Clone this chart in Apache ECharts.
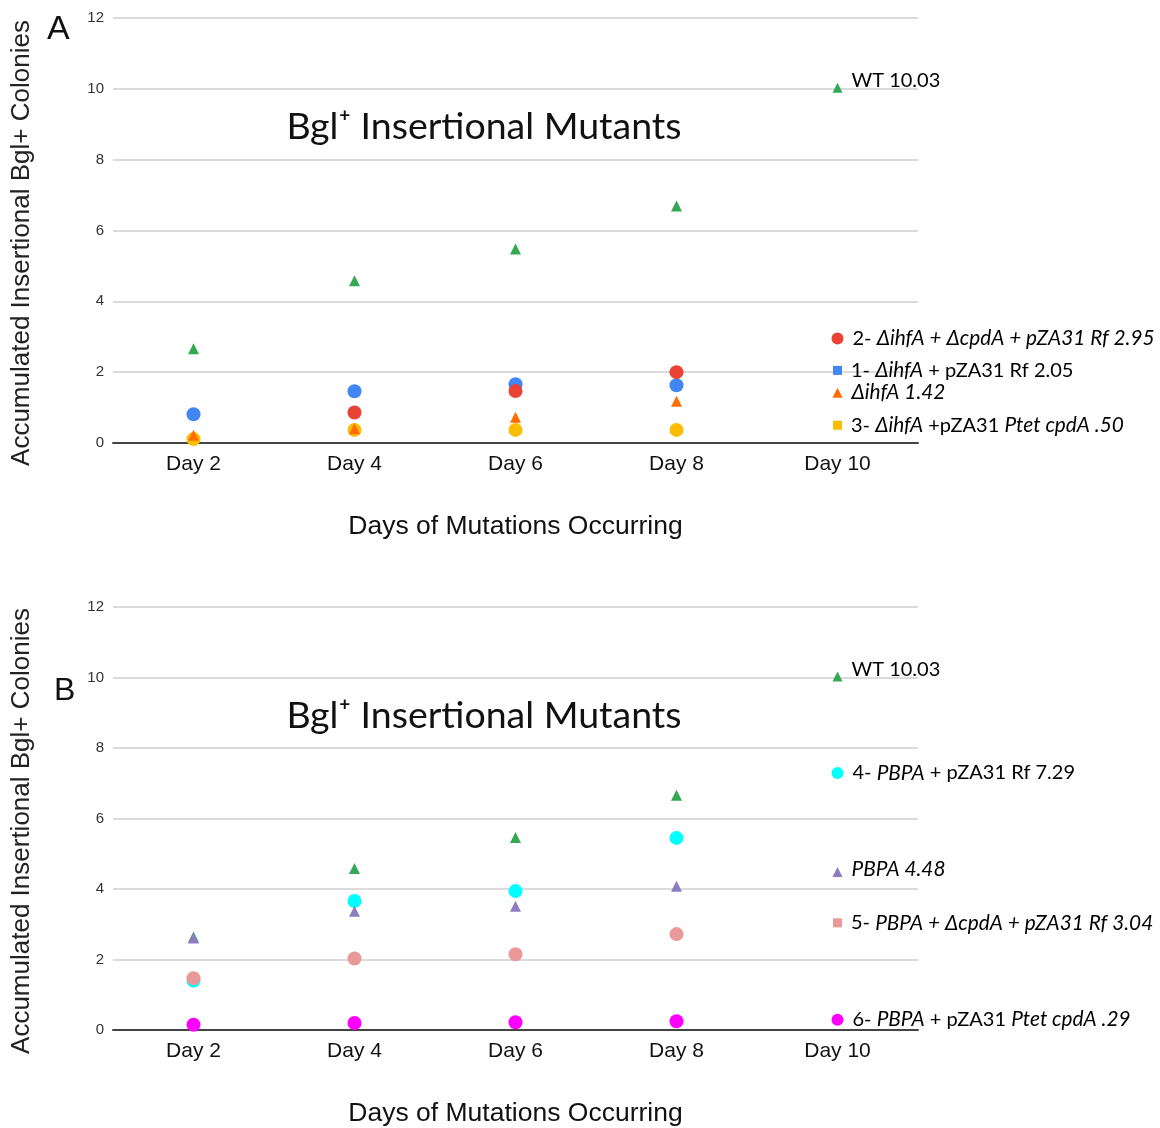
<!DOCTYPE html>
<html><head><meta charset="utf-8">
<script src="https://cdn.jsdelivr.net/npm/echarts@6/dist/echarts.min.js"></script>
<style>html,body{margin:0;padding:0;background:#fff}#c{width:1160px;height:1128px}</style>
</head><body><div id="c"></div>
<script>
const days = ['Day 2', 'Day 4', 'Day 6', 'Day 8', 'Day 10'];
const yTicks = [0, 2, 4, 6, 8, 10, 12];

// Panel A
const wtA = [2.66, 4.58, 5.48, 6.69, 10.03];
const ihfA_pZA31 = [0.81, 1.46, 1.66, 1.63, 2.05];          // 1-
const ihfA_cpdA_pZA31 = [null, 0.86, 1.47, 2.0, 2.95];       // 2-
const ihfA = [0.22, 0.40, 0.73, 1.18, 1.42];
const ihfA_Ptet = [0.11, 0.37, 0.37, 0.37, 0.50];            // 3-

// Panel B
const wtB = [2.64, 4.58, 5.46, 6.66, 10.03];
const pbpa_pZA31 = [1.40, 3.66, 3.94, 5.45, 7.29];           // 4-
const pbpa = [2.61, 3.37, 3.51, 4.08, 4.48];
const pbpa_cpdA_pZA31 = [1.47, 2.03, 2.15, 2.72, 3.04];      // 5-
const pbpa_Ptet = [0.15, 0.20, 0.22, 0.25, 0.29];            // 6-

const labelWT = '{n|WT 10.03}';
const label1 = '{n|1- }{i|ΔihfA}{n| + pZA31 Rf 2.05}';
const label2 = '{n|2- }{i|ΔihfA + ΔcpdA + pZA31 Rf 2.95}';
const labelIhf = '{i|ΔihfA 1.42}';
const label3 = '{n|3- }{i|ΔihfA}{n| +pZA31 }{i|Ptet cpdA .50}';
const label4 = '{n|4- }{i|PBPA}{n| + pZA31 Rf 7.29}';
const labelPbpa = '{i|PBPA 4.48}';
const label5 = '{n|5- }{i|PBPA + ΔcpdA + pZA31 Rf 3.04}';
const label6 = '{n|6- }{i|PBPA}{n| + pZA31 }{i|Ptet cpdA .29}';

const yName = 'Accumulated Insertional Bgl+ Colonies';
const xName = 'Days of Mutations Occurring';
const titleText = 'Bgl⁺ Insertional Mutants';

const FONT = 'Lato, "Open Sans", sans-serif';
const SANS = '"Liberation Sans", Arial, sans-serif';
const rich = {
  n: {fontFamily: FONT, fontSize: 20, color: '#000'},
  i: {fontFamily: FONT, fontSize: 20.8, color: '#000', fontStyle: 'italic'}
};

function mk(idx, vals, color, symbol, size, endSymbol, endSize, label, labelOffset) {
  return {
    type: 'scatter', xAxisIndex: idx, yAxisIndex: idx,
    itemStyle: {color: color, opacity: 1},
    symbol: symbol, symbolSize: size,
    data: vals.map((v, i) => {
      if (i === vals.length - 1) {
        return {value: v, symbol: endSymbol, symbolSize: endSize,
          label: {show: true, position: 'right', distance: 9, formatter: label, rich: rich,
                  offset: labelOffset || [0, 0]}};
      }
      return v;
    })
  };
}

function yAxis(idx) {
  return {
    type: 'value', gridIndex: idx, min: 0, max: 12, interval: 2,
    axisLine: {show: false}, axisTick: {show: false},
    axisLabel: {fontFamily: SANS, fontSize: 15, color: '#333', margin: 9,
      formatter: v => yTicks.includes(v) ? String(v) : ''},
    splitLine: {lineStyle: {color: '#cfcfcf', width: 1.5}}
  };
}
function xAxis(idx) {
  return {
    type: 'category', gridIndex: idx, data: days, boundaryGap: true,
    axisLine: {lineStyle: {color: '#444', width: 2}}, axisTick: {show: false},
    axisLabel: {fontFamily: SANS, fontSize: 21, color: '#111', margin: 11},
    name: xName, nameLocation: 'middle', nameGap: 70,
    nameTextStyle: {fontFamily: SANS, fontSize: 26.5, color: '#111'}
  };
}

const chart = echarts.init(document.getElementById('c'), null, {renderer: 'canvas'});
chart.setOption({
  animation: false,
  backgroundColor: '#fff',
  grid: [
    {left: 113, width: 805, top: 18, height: 425},
    {left: 113, width: 805, top: 607, height: 424}
  ],
  xAxis: [xAxis(0), xAxis(1)],
  yAxis: [yAxis(0), yAxis(1)],
  title: [
    {text: titleText, left: 479, top: 103, textAlign: 'center',
     textStyle: {fontFamily: FONT, fontSize: 37.5, fontWeight: 'normal', color: '#111'}},
    {text: titleText, left: 479, top: 692, textAlign: 'center',
     textStyle: {fontFamily: FONT, fontSize: 37.5, fontWeight: 'normal', color: '#111'}},
    {text: 'A', left: 42, top: 8, textStyle: {fontFamily: SANS, fontSize: 34, fontWeight: 'normal', color: '#111'}},
    {text: 'B', left: 49, top: 670, textStyle: {fontFamily: SANS, fontSize: 32, fontWeight: 'normal', color: '#111'}}
  ],
  graphic: [
    {type: 'text', x: 22, y: 243, rotation: Math.PI / 2,
     style: {text: yName, fontFamily: SANS, fontSize: 26, fill: '#222', align: 'center', verticalAlign: 'middle'}},
    {type: 'text', x: 22, y: 831, rotation: Math.PI / 2,
     style: {text: yName, fontFamily: SANS, fontSize: 26, fill: '#222', align: 'center', verticalAlign: 'middle'}}
  ],
  series: [
    mk(0, ihfA_Ptet, '#fbbc04', 'circle', 14, 'rect', 9, label3),
    mk(0, ihfA_pZA31, '#4285f4', 'circle', 14, 'rect', 9, label1),
    mk(0, ihfA_cpdA_pZA31, '#ea4335', 'circle', 14, 'circle', 12, label2),
    mk(0, ihfA, '#ff6d01', 'triangle', 11, 'triangle', 10, labelIhf),
    mk(0, wtA, '#34a853', 'triangle', 11, 'triangle', 10, labelWT, [0, -7]),
    mk(1, pbpa_pZA31, '#00ffff', 'circle', 14, 'circle', 12, label4),
    mk(1, pbpa_cpdA_pZA31, '#ea9999', 'circle', 14, 'rect', 9, label5),
    mk(1, wtB, '#34a853', 'triangle', 11, 'triangle', 10, labelWT, [0, -7]),
    mk(1, pbpa, '#8e7cc3', 'triangle', 11, 'triangle', 10, labelPbpa, [0, -3]),
    mk(1, pbpa_Ptet, '#ff00ff', 'circle', 14, 'circle', 12, label6)
  ]
});
</script></body></html>
